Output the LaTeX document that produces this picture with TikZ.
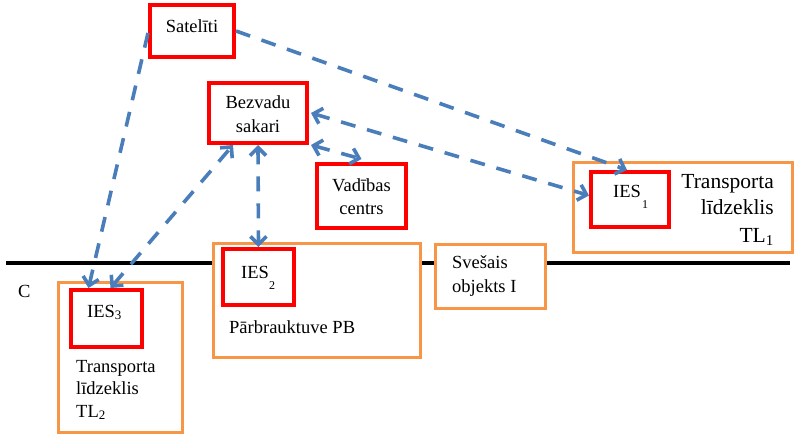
\documentclass[tikz,border=0pt]{standalone}
\usepackage{fontspec}
\setmainfont{Liberation Serif}
\usetikzlibrary{arrows.meta}
\definecolor{myblue}{RGB}{74,126,187}
\definecolor{myred}{RGB}{255,0,0}
\definecolor{myorange}{RGB}{247,150,70}
\tikzset{
  redbox/.style={draw=myred, line width=4pt, fill=white, inner sep=0pt},
  orangebox/.style={draw=myorange, line width=3pt, fill=white, inner sep=0pt},
  txt/.style={inner sep=0pt, font=\fontsize{18.5}{22}\selectfont},
  bigtxt/.style={inner sep=0pt, font=\fontsize{21.5}{25}\selectfont},
  subtxt/.style={inner sep=0pt, font=\fontsize{12}{14}\selectfont},
  conn/.style={draw=myblue, line width=3.6pt, dash pattern=on 15pt off 12pt},
  tipend/.style={-{Straight Barb[length=8pt,width=16pt]}},
  tipboth/.style={{Straight Barb[length=8pt,width=16pt]}-{Straight Barb[length=8pt,width=16pt]}},
}
\begin{document}
\begin{tikzpicture}[x=1pt,y=-1pt]
\useasboundingbox (0,0) rectangle (796,436);
% ground line
\coordinate (lineL) at (6,263);
\coordinate (lineR) at (790,263);
\draw[line width=4pt] (lineL) -- (lineR);
\node[txt, anchor=base west] (clab) at (18,297) {C};
% boxes
\node[redbox, minimum width=84pt, minimum height=52pt] (sat) at (192,31) {};
\node[txt, anchor=base] (sattxt) at (192,33) {Satelīti};
\node[redbox, minimum width=98pt, minimum height=60pt] (bez) at (258,113) {};
\node[txt, anchor=base] (bez1) at (258,109) {Bezvadu};
\node[txt, anchor=base] (bez2) at (258,132) {sakari};
\node[redbox, minimum width=89pt, minimum height=64pt] (vad) at (361.5,196) {};
\node[txt, anchor=base] (vad1) at (361.5,191) {Vadības};
\node[txt, anchor=base] (vad2) at (361.5,214) {centrs};
% TL1
\node[orangebox, minimum width=219pt, minimum height=90pt] (tl1) at (682.5,207) {};
\node[redbox, minimum width=78pt, minimum height=55pt] (ies1) at (630,199.5) {};
\node[txt, anchor=base west] (ies1t) at (613,197) {IES};
\node[subtxt, anchor=base west] (ies1s) at (642,208) {1};
\node[bigtxt, anchor=base east] (tl1a) at (774,188) {Transporta};
\node[bigtxt, anchor=base east] (tl1b) at (774,214) {līdzeklis};
\node[bigtxt, anchor=base east] (tl1c) at (774,242) {TL\textsubscript{1}};
% TL2
\node[orangebox, minimum width=124pt, minimum height=150pt] (tl2) at (120,357) {};
\node[redbox, minimum width=71pt, minimum height=57pt] (ies3) at (106.5,318.5) {};
\node[txt, anchor=base west] (ies3t) at (87,317) {IES\textsubscript{3}};
\node[txt, anchor=base west] (tl2a) at (76,372) {Transporta};
\node[txt, anchor=base west] (tl2b) at (76,394) {līdzeklis};
\node[txt, anchor=base west] (tl2c) at (76,417) {TL\textsubscript{2}};
% PB
\node[orangebox, minimum width=207pt, minimum height=114pt] (pb) at (316.5,300) {};
\node[redbox, minimum width=71pt, minimum height=56pt] (ies2) at (258.5,277) {};
\node[txt, anchor=base west] (ies2t) at (241,278) {IES};
\node[subtxt, anchor=base west] (ies2s) at (269,289) {2};
\node[txt, anchor=base west] (pbt) at (229,333) {Pārbrauktuve PB};
% foreign object
\node[orangebox, minimum width=110pt, minimum height=64pt] (svo) at (490,276) {};
\node[txt, anchor=base west] (svo1) at (452,268) {Svešais};
\node[txt, anchor=base west] (svo2) at (452,292) {objekts I};
% connectors
\draw[conn, tipend] ([yshift=-2pt]sat.west) -- ([xshift=-18pt]ies3.north);
\draw[conn, tipend] (sat.east) -- ([xshift=-3pt]ies1.north);
\draw[conn, tipboth] ([xshift=4pt]ies3.north) -- ([xshift=-25pt]bez.south);
\draw[conn, tipboth] (bez.south) -- (ies2.north);
\draw[conn, tipboth] ([xshift=2pt]bez.south east) -- ([yshift=3pt]vad.north);
\draw[conn, tipboth] ([xshift=2pt]bez.east) -- ([yshift=4pt]ies1.west);
\end{tikzpicture}
\end{document}
